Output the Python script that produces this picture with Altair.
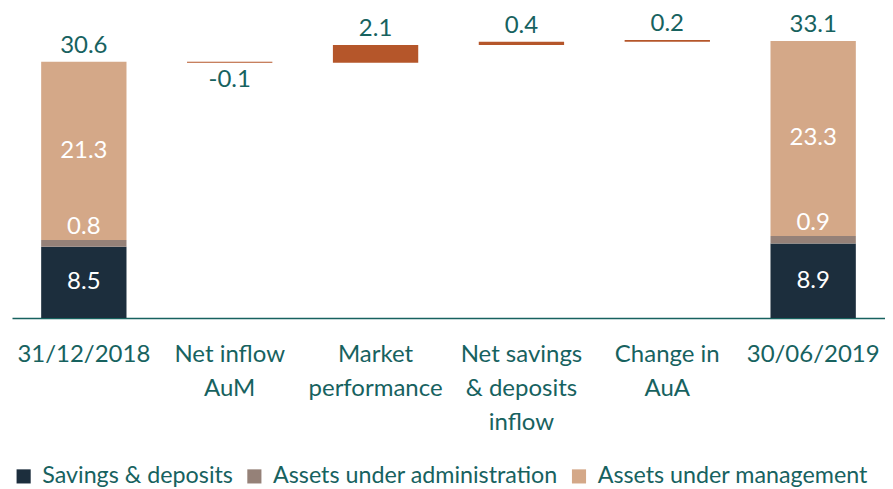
import altair as alt
import pandas as pd

# ---- data ----
categories = ["31/12/2018", "Net inflow|AuM", "Market|performance",
              "Net savings|& deposits|inflow", "Change in|AuA", "30/06/2019"]
segments = ["Savings & deposits", "Assets under administration", "Assets under management"]
seg_colors = ["#1c2e3d", "#958178", "#d4a888"]
start_values = [8.5, 0.8, 21.3]
end_values = [8.9, 0.9, 23.3]
start_total = 30.6
end_total = 33.1
deltas = [-0.1, 2.1, 0.4, 0.2]
delta_labels = ["-0.1", "2.1", "0.4", "0.2"]

TEAL = "#17625f"
ORANGE = "#b5562a"
FONT = "Lato"

# ---- build tables ----
stack_rows = []
for cat, vals in [(categories[0], start_values), (categories[-1], end_values)]:
    acc = 0.0
    for seg, v in zip(segments, vals):
        stack_rows.append({"cat": cat, "seg": seg, "lo": acc, "hi": acc + v,
                           "mid": acc + v / 2, "label": f"{v:.1f}"})
        acc += v
stack = pd.DataFrame(stack_rows)

delta_rows = []
run = start_total
for cat, d, lab in zip(categories[1:-1], deltas, delta_labels):
    lo, hi = run, run + d
    delta_rows.append({"cat": cat, "lo": min(lo, hi), "hi": max(lo, hi),
                       "label": lab, "neg": d < 0})
    run = hi
delta = pd.DataFrame(delta_rows)

tops = pd.DataFrame(
    [{"cat": categories[0], "top": start_total, "label": f"{start_total:.1f}"},
     {"cat": categories[-1], "top": end_total, "label": f"{end_total:.1f}"}]
    + [{"cat": r["cat"], "top": r["hi"], "label": r["label"]} for r in delta_rows if not r["neg"]]
)
bottoms = pd.DataFrame([{"cat": r["cat"], "bot": r["lo"], "label": r["label"]}
                        for r in delta_rows if r["neg"]])

xenc = alt.X("cat:N", sort=categories,
             scale=alt.Scale(domain=categories, paddingInner=0.415, paddingOuter=0.2),
             axis=alt.Axis(title=None, labelAngle=0, ticks=False, grid=False,
                           domainColor=TEAL, domainWidth=1.5,
                           labelColor=TEAL, labelFont=FONT, labelFontSize=24,
                           labelPadding=25, labelLineHeight=34,
                           labelExpr="split(datum.value, '|')"))
yscale = alt.Scale(domain=[0, 37], nice=False, zero=True)

stack_bars = alt.Chart(stack).mark_bar().encode(
    x=xenc,
    y=alt.Y("lo:Q", scale=yscale, axis=None),
    y2="hi:Q",
    color=alt.Color("seg:N", scale=alt.Scale(domain=segments, range=seg_colors),
                    sort=segments,
                    legend=alt.Legend(title=None, orient="bottom", direction="horizontal",
                                      symbolType="square", symbolSize=200,
                                      symbolStrokeWidth=0, symbolOffset=0,
                                      labelFont=FONT, labelFontSize=23.3, labelColor=TEAL,
                                      labelOffset=7,
                                      labelLimit=0, columnPadding=9, offset=30)),
)

delta_bars = alt.Chart(delta).mark_bar(color=ORANGE, minBandSize=1).encode(
    x=alt.X("cat:N", sort=categories),
    y=alt.Y("lo:Q", scale=yscale),
    y2="hi:Q",
)

inner_mid = alt.Chart(stack).transform_filter(
    alt.datum.seg != segments[1]
).mark_text(color="white", font=FONT, fontSize=24, baseline="middle").encode(
    x=alt.X("cat:N", sort=categories),
    y=alt.Y("mid:Q", scale=yscale),
    text="label:N",
)

inner_small = alt.Chart(stack).transform_filter(
    alt.datum.seg == segments[1]
).mark_text(color="white", font=FONT, fontSize=24, baseline="middle", dy=-13).encode(
    x=alt.X("cat:N", sort=categories),
    y=alt.Y("hi:Q", scale=yscale),
    text="label:N",
)

top_text = alt.Chart(tops).mark_text(color=TEAL, font=FONT, fontSize=24,
                                     baseline="bottom", dy=-4).encode(
    x=alt.X("cat:N", sort=categories),
    y=alt.Y("top:Q", scale=yscale),
    text="label:N",
)

bottom_text = alt.Chart(bottoms).mark_text(color=TEAL, font=FONT, fontSize=24,
                                           baseline="top", dy=5).encode(
    x=alt.X("cat:N", sort=categories),
    y=alt.Y("bot:Q", scale=yscale),
    text="label:N",
)

chart = alt.layer(stack_bars, delta_bars, inner_mid, inner_small, top_text, bottom_text).properties(
    width=874, height=310,
    padding={"left": 4, "top": 0, "right": 0, "bottom": 0},
).configure_view(stroke=None)

chart.save("out.html", embed_options={"renderer": "svg", "actions": False})
